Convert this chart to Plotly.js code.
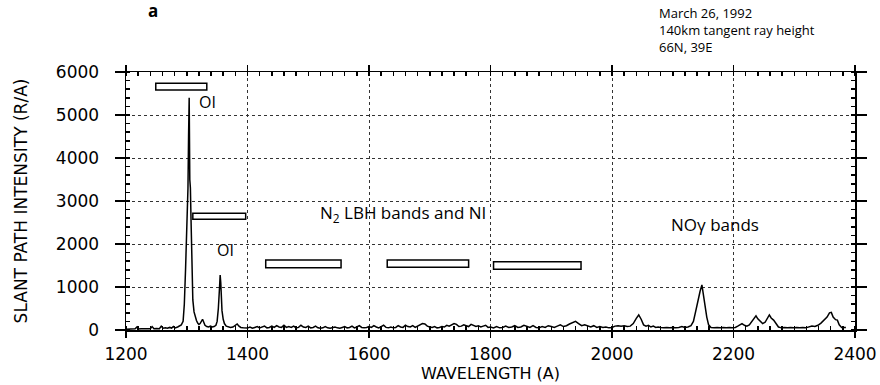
<!DOCTYPE html>
<html>
<head>
<meta charset="utf-8">
<script src="https://cdn.plot.ly/plotly-3.0.1.min.js"></script>
<style>html,body{margin:0;padding:0;background:#fff;}#chart{width:880px;height:385px;}</style>
</head>
<body>
<div id="chart"></div>
<script>
// Spectrum: wavelength (A) and slant path intensity (R/A)
const wavelength = [
1200,1205,1210,1215,1218,1220,1225,1230,1235,1240,1243,1246,1250,1255,1258,1261,1265,1268,1272,1275,1278,1281,1285,1288,1291,1294,1296,1298,1300,1301,1302,1303,1304,1305,1306,1307,1308,1309,1310,1312,1314,1316,1318,1320,1322,1324,1326,1328,1330,1333,1336,1339,1342,1345,1348,1350,1352,1354,1355,1356,1357,1358,1360,1362,1365,1368,1372,1376,1380,1383,1386,1389,1393,1397,1400,
1404,1408,1412,1416,1420,1424,1428,1432,1436,1440,1444,1448,1452,1456,1460,1464,1468,1472,1476,1480,1484,1488,1492,1496,1500,1504,1508,1512,1516,1520,1524,1528,1532,1536,1540,1544,1548,1552,1556,1560,1564,1568,1572,1576,1580,1584,1588,1592,1596,1600,1604,1608,1612,1616,1620,1624,1628,1632,1636,1640,1644,1648,1652,1656,1660,1664,1668,1672,1676,1680,1684,1688,1692,1696,1700,1704,1708,1712,1716,1720,1724,1728,1732,1736,1740,1744,1748,1752,1756,1760,1764,1768,1772,1776,1780,1784,1788,1792,1796,1800,
1805,1810,1815,1820,1825,1830,1835,1840,1845,1850,1855,1860,1865,1870,1875,1880,1885,1890,1895,1900,1905,1910,1915,1920,1925,1930,1935,1940,1945,1950,1955,1960,1965,1970,1975,1980,1985,1990,1995,2000,2005,2010,2015,2020,2025,2030,2035,2040,2044,2048,2052,2056,2060,2064,2068,2072,2076,2080,2085,2090,2095,2100,2105,2110,2115,2120,2125,2130,2134,2138,2142,2145,2148,2150,2152,2154,2156,2159,2163,2168,2173,2178,2183,2188,2193,2198,2203,2207,2211,2214,2218,2222,2226,2230,2234,2237,2240,2244,2248,2252,2256,2259,2262,2266,2270,2274,2279,2284,2289,2294,2299,2304,2309,2314,2319,2324,2329,2334,2339,2344,2349,2354,2358,2361,2364,2368,2371,2374,2378,2382,2385
];
const intensity = [
20,25,20,30,70,25,30,25,30,30,80,30,35,30,90,40,50,40,60,45,80,50,70,90,120,200,600,1400,2400,3000,3300,4500,5400,3500,3300,2600,1800,1100,700,420,300,220,160,130,150,220,250,180,110,80,70,90,70,80,110,200,500,1000,1280,1100,700,450,250,150,90,70,60,70,100,140,90,60,50,40,45,
70,40,60,80,50,70,90,50,60,90,60,100,70,60,110,60,80,60,90,50,60,110,70,60,90,50,60,90,50,40,50,80,50,40,50,70,50,40,60,80,50,60,90,50,70,100,60,50,60,80,60,100,70,50,80,110,60,50,70,50,60,100,70,60,110,80,70,100,60,90,120,150,140,90,70,60,80,50,60,80,70,110,90,120,150,130,80,90,120,100,80,130,110,80,100,70,90,110,60,70,
50,80,50,60,90,60,70,100,60,70,110,80,60,100,60,50,80,60,100,80,60,90,120,80,100,140,170,200,150,100,120,90,70,100,60,80,60,70,50,60,90,100,90,100,80,90,150,270,350,250,120,90,110,70,90,60,70,60,50,60,50,60,50,60,80,60,70,100,200,450,750,900,1050,850,660,550,300,120,60,50,60,50,60,50,60,50,60,90,130,150,110,90,120,200,300,330,260,200,150,180,280,350,280,230,150,70,50,60,50,60,50,60,50,60,50,70,90,80,110,160,230,300,400,410,300,240,230,120,60,50,60
];

// Band-pass boxes: wavelength start/end, intensity bottom/top
const boxX0 = [1249, 1310, 1430, 1630, 1805];
const boxX1 = [1333, 1397, 1554, 1764, 1949];
const boxY0 = [5580, 2575, 1450, 1458, 1411];
const boxY1 = [5740, 2713, 1628, 1628, 1588];

// Labels on the plot
const labelText = ["OI", "OI", "N<sub>2</sub> LBH bands and NI", "NO\u03b3 bands"];
const labelX = [1317, 1346, 1516, 2094];
const labelY = [5300, 1860, 2720, 2465];

const xTicks = [1200, 1400, 1600, 1800, 2000, 2200, 2400];
const yTicks = [0, 1000, 2000, 3000, 4000, 5000, 6000];

const infoLines = ["March 26, 1992", "140km tangent ray height", "66N, 39E"];

const FONT = "Open Sans, Lato, DejaVu Sans, sans-serif";
const WIDE = "DejaVu Sans, Open Sans, sans-serif";

const shapes = boxX0.map((x0, i) => ({
  type: "rect", xref: "x", yref: "y",
  x0: x0, x1: boxX1[i], y0: boxY0[i], y1: boxY1[i],
  line: {color: "#000", width: 1.5}, fillcolor: "#fff", layer: "above"
}));

const annotations = labelText.map((t, i) => ({
  text: t, x: labelX[i], y: labelY[i], xref: "x", yref: "y",
  xanchor: "left", yanchor: "middle", showarrow: false,
  font: {family: FONT, size: i < 2 ? 16 : 17, color: "#000"}
}));
annotations.push({
  text: infoLines.join("<br>"), x: 0.7284, y: 1.27, xref: "paper", yref: "paper",
  xanchor: "left", yanchor: "top", align: "left", showarrow: false,
  font: {family: FONT, size: 13, color: "#000"}
});
annotations.push({
  text: "<b>a</b>", x: 0.037, y: 1.24, xref: "paper", yref: "paper",
  xanchor: "center", yanchor: "middle", showarrow: false,
  font: {family: FONT, size: 17, color: "#000"}
});

const axisCommon = {
  showline: true, linecolor: "#000", linewidth: 1.5, mirror: "ticks",
  ticks: "outside", ticklen: 8, tickwidth: 1.5, tickcolor: "#000",
  showgrid: true, gridcolor: "#333", gridwidth: 1, griddash: "dot",
  zeroline: false,
  tickfont: {family: WIDE, size: 17, color: "#000"}
};

const layout = {
  width: 880, height: 385,
  margin: {l: 126, r: 25, t: 72, b: 55},
  paper_bgcolor: "#fff", plot_bgcolor: "#fff",
  showlegend: false,
  xaxis: Object.assign({}, axisCommon, {
    range: [1200, 2400], tickvals: xTicks, ticktext: xTicks.map(String), ticklen: 6,
    ticklabelstandoff: 2,
    minor: {dtick: 20, tick0: 1200, ticks: "inside", ticklen: 4, tickcolor: "#000", showgrid: false},
    title: {text: "WAVELENGTH (A)", font: {family: WIDE, size: 16, color: "#000"}, standoff: 2}
  }),
  yaxis: Object.assign({}, axisCommon, {
    range: [0, 6000], tickvals: yTicks, ticktext: yTicks.map(String), ticklen: 10,
    ticklabelstandoff: 12,
    minor: {dtick: 200, tick0: 0, ticks: "inside", ticklen: 4, tickcolor: "#000", showgrid: false},
    title: {text: "SLANT PATH INTENSITY (R/A)", font: {family: WIDE, size: 17, color: "#000"}, standoff: 24}
  }),
  shapes: shapes,
  annotations: annotations
};

Plotly.newPlot("chart", [{
  x: wavelength, y: intensity, type: "scatter", mode: "lines",
  line: {color: "#000", width: 1.5}, hoverinfo: "skip"
}], layout, {displayModeBar: false, staticPlot: true});
</script>
</body>
</html>
